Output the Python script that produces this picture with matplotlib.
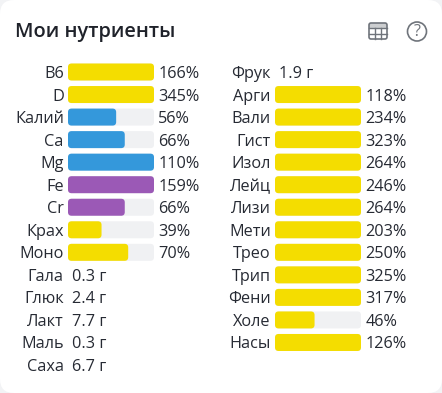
import matplotlib
matplotlib.use('Agg')
import matplotlib.pyplot as plt
from matplotlib.patches import FancyBboxPatch, Rectangle, Circle

W, H = 442, 393

YELLOW = '#f4dd00'
BLUE = '#3498db'
PURPLE = '#9b59b6'
TRACK = '#f0f1f3'
TEXT = '#262a33'

# left column
left_names = ['B6', 'D', 'Калий', 'Ca', 'Mg', 'Fe', 'Cr', 'Крах', 'Моно',
              'Гала', 'Глюк', 'Лакт', 'Маль', 'Саха']
left_vals = [166, 345, 56, 66, 110, 159, 66, 39, 70, 0.3, 2.4, 7.7, 0.3, 6.7]
left_units = ['%', '%', '%', '%', '%', '%', '%', '%', '%', 'г', 'г', 'г', 'г', 'г']
left_colors = [YELLOW, YELLOW, BLUE, BLUE, BLUE, PURPLE, PURPLE, YELLOW, YELLOW,
               None, None, None, None, None]

# right column
right_names = ['Фрук', 'Арги', 'Вали', 'Гист', 'Изол', 'Лейц', 'Лизи', 'Мети',
               'Трео', 'Трип', 'Фени', 'Холе', 'Насы']
right_vals = [1.9, 118, 234, 323, 264, 246, 264, 203, 250, 325, 317, 46, 126]
right_units = ['г'] + ['%'] * 12
right_colors = [None] + [YELLOW] * 12

plt.rcParams['font.family'] = ['Open Sans', 'DejaVu Sans']

fig = plt.figure(figsize=(W / 100, H / 100), dpi=100, facecolor='#f2f3f5')

# card background, in pixels
bg = fig.add_axes([0, 0, 1, 1])
bg.set_xlim(0, W)
bg.set_ylim(H, 0)
bg.axis('off')
bg.add_patch(FancyBboxPatch((0, 0), W, H, boxstyle='round,pad=0,rounding_size=14',
                            fc='white', ec='none'))
bg.text(15, 32, 'Мои нутриенты', fontsize=14.4, fontweight='semibold',
        color='#1f222a', va='center', ha='left')

# table icon
ICON = '#6f747b'
bg.add_patch(FancyBboxPatch((369, 23), 18, 16, boxstyle='round,pad=0,rounding_size=2',
                            fc='none', ec=ICON, lw=1.2))
bg.add_patch(Rectangle((369, 23), 18, 4.5, fc=ICON, ec='none', alpha=0.35))
for y in [27.5, 33.5]:
    bg.plot([369, 387], [y, y], color=ICON, lw=1)
for x in [375, 381]:
    bg.plot([x, x], [27.5, 39], color=ICON, lw=1)

# help icon
bg.add_patch(Circle((417, 31.5), 9.5, fc='none', ec=ICON, lw=1.2))
bg.text(417, 31.5, '?', fontsize=11.5, color=ICON, ha='center', va='center')


def draw_column(x0, names, vals, units, colors):
    n = len(names)
    top = 72 - 22.54 / 2
    ax = fig.add_axes([x0 / W, 1 - (top + n * 22.54) / H, 86 / W, n * 22.54 / H])
    ax.set_xlim(0, 100)
    ax.set_ylim(n - 0.5, -0.5)
    ax.axis('off')
    round_x = 4.2
    aspect = 0.86 / 22.54
    for i in range(n):
        ax.annotate(names[i], (0, i), xytext=(-3, 0), textcoords='offset points',
                    ha='right', va='center_baseline', fontsize=11.7, color=TEXT,
                    annotation_clip=False)
        if colors[i] is None:
            ax.annotate('%s %s' % (vals[i], units[i]), (0, i), xytext=(3, 0),
                        textcoords='offset points', ha='left', va='center_baseline',
                        fontsize=11.7, color=TEXT, annotation_clip=False)
            continue
        h = 17 / 22.54
        ax.add_patch(FancyBboxPatch((0, i - h / 2), 100, h,
                                    boxstyle='round,pad=0,rounding_size=%s' % round_x,
                                    mutation_aspect=aspect, fc=TRACK, ec='none'))
        ax.add_patch(FancyBboxPatch((0, i - h / 2), min(vals[i], 100), h,
                                    boxstyle='round,pad=0,rounding_size=%s' % round_x,
                                    mutation_aspect=aspect, fc=colors[i], ec='none'))
        ax.annotate('%d%s' % (vals[i], units[i]), (100, i), xytext=(3, 0),
                    textcoords='offset points', ha='left', va='center_baseline',
                    fontsize=11.7, color=TEXT, annotation_clip=False)


draw_column(68, left_names, left_vals, left_units, left_colors)
draw_column(275, right_names, right_vals, right_units, right_colors)

fig.savefig('out.png', dpi=100, facecolor=fig.get_facecolor())
